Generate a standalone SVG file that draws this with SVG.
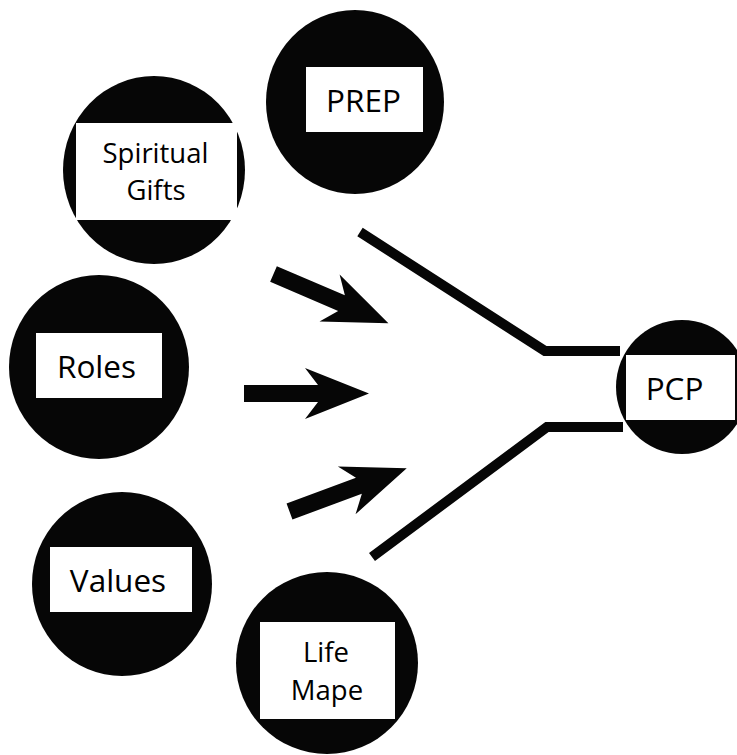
<svg xmlns="http://www.w3.org/2000/svg" xmlns:xlink="http://www.w3.org/1999/xlink" width="737" height="755" viewBox="0 0 737 755">
  <style>
    .disc { fill: #060606; }
    .box { fill: #ffffff; }
    .lbl { font-family: "Open Sans", "Liberation Sans", sans-serif; fill: #000; text-anchor: middle; }
    .big { font-size: 31.5px; }
    .small { font-size: 27.5px; }
    .funnel { fill: none; stroke: #060606; stroke-width: 10; stroke-linejoin: miter; stroke-linecap: butt; }
    .arrow { fill: #060606; }
  </style>
  <defs>
    <path id="arr" d="M0,-8.5 L74,-8.5 L61,-25.5 L125,0 L61,25.5 L74,8.5 L0,8.5 Z"/>
  </defs>
  <rect width="737" height="755" fill="#ffffff"/>

  <g id="prep">
    <ellipse class="disc" cx="355" cy="102" rx="89" ry="92"/>
    <rect class="box" x="306" y="67" width="117" height="65"/>
    <text class="lbl big" x="363.5" y="112">PREP</text>
  </g>

  <g id="spiritual-gifts">
    <ellipse class="disc" cx="154" cy="170" rx="91" ry="94"/>
    <rect class="box" x="76" y="123" width="161" height="97"/>
    <text class="lbl small" x="155.5" y="163">Spiritual</text>
    <text class="lbl small" x="156" y="200">Gifts</text>
  </g>

  <g id="roles">
    <ellipse class="disc" cx="99" cy="367" rx="90" ry="92"/>
    <rect class="box" x="36" y="333" width="126" height="65"/>
    <text class="lbl big" x="96.5" y="378">Roles</text>
  </g>

  <g id="values">
    <ellipse class="disc" cx="122" cy="584" rx="90" ry="92"/>
    <rect class="box" x="50" y="547" width="142" height="65"/>
    <text class="lbl big" x="118" y="592">Values</text>
  </g>

  <g id="life-mape">
    <ellipse class="disc" cx="327" cy="663" rx="91" ry="91"/>
    <rect class="box" x="260" y="622" width="135" height="97"/>
    <text class="lbl small" x="326" y="662">Life</text>
    <text class="lbl small" x="327" y="700">Mape</text>
  </g>

  <g id="pcp">
    <ellipse class="disc" cx="682" cy="387" rx="66" ry="67"/>
    <rect class="box" x="626" y="355" width="109" height="65"/>
    <text class="lbl big" x="674.5" y="400">PCP</text>
  </g>

  <g id="connectors">
    <use xlink:href="#arr" href="#arr" class="arrow" transform="translate(273.5,274) rotate(23.2)"/>
    <use xlink:href="#arr" href="#arr" class="arrow" transform="translate(244,393.5)"/>
    <use xlink:href="#arr" href="#arr" class="arrow" transform="translate(289.5,511.5) rotate(-20.3)"/>
    <polyline class="funnel" points="360,232 545,351 620,351"/>
    <polyline class="funnel" points="372,557 547,427 623,427"/>
  </g>
</svg>
